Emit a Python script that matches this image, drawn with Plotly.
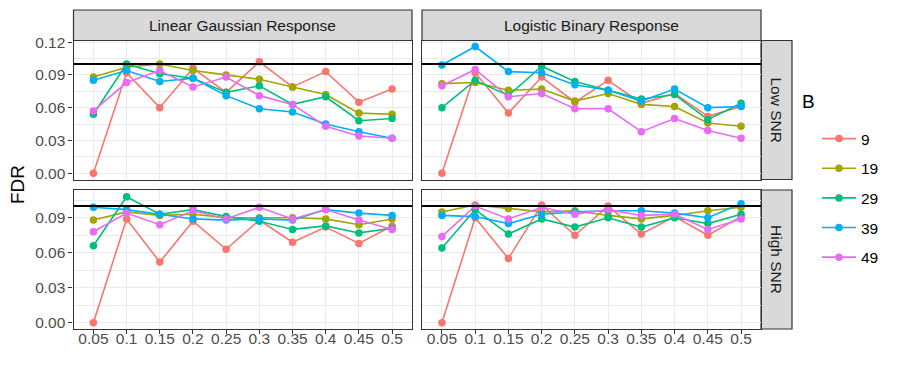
import plotly.graph_objects as go
from plotly.subplots import make_subplots

# FDR levels (x axis, discrete in the original)
fdr_levels = [0.05, 0.10, 0.15, 0.20, 0.25, 0.30, 0.35, 0.40, 0.45, 0.50]
fdr_labels = ["0.05", "0.1", "0.15", "0.2", "0.25", "0.3", "0.35", "0.4", "0.45", "0.5"]

b_values = ["9", "19", "29", "39", "49"]
b_colors = ["#F8766D", "#A3A500", "#00BF7D", "#00B0F6", "#E76BF3"]

# Low SNR, linear gaussian response
low_lin_9 = [0.000, 0.092, 0.060, 0.096, 0.074, 0.102, 0.079, 0.093, 0.065, 0.077]
low_lin_19 = [0.088, 0.097, 0.100, 0.094, 0.090, 0.086, 0.079, 0.072, 0.055, 0.054]
low_lin_29 = [0.054, 0.100, 0.091, 0.087, 0.074, 0.080, 0.063, 0.070, 0.048, 0.050]
low_lin_39 = [0.085, 0.094, 0.084, 0.087, 0.071, 0.059, 0.056, 0.045, 0.038, 0.032]
low_lin_49 = [0.057, 0.083, 0.094, 0.079, 0.088, 0.071, 0.063, 0.043, 0.034, 0.032]

# Low SNR, logistic binary response
low_log_9 = [0.000, 0.092, 0.055, 0.088, 0.065, 0.085, 0.064, 0.073, 0.052, 0.061]
low_log_19 = [0.082, 0.083, 0.076, 0.077, 0.066, 0.073, 0.063, 0.061, 0.046, 0.043]
low_log_29 = [0.060, 0.085, 0.071, 0.098, 0.084, 0.076, 0.068, 0.072, 0.049, 0.064]
low_log_39 = [0.099, 0.116, 0.093, 0.092, 0.081, 0.076, 0.066, 0.077, 0.060, 0.061]
low_log_49 = [0.080, 0.095, 0.070, 0.073, 0.059, 0.059, 0.038, 0.050, 0.039, 0.032]

# High SNR, linear gaussian response
high_lin_9 = [0.000, 0.089, 0.052, 0.087, 0.063, 0.088, 0.069, 0.082, 0.068, 0.083]
high_lin_19 = [0.088, 0.095, 0.092, 0.093, 0.090, 0.090, 0.090, 0.089, 0.084, 0.089]
high_lin_29 = [0.066, 0.108, 0.093, 0.097, 0.091, 0.087, 0.080, 0.083, 0.077, 0.081]
high_lin_39 = [0.099, 0.097, 0.093, 0.089, 0.088, 0.089, 0.088, 0.097, 0.094, 0.092]
high_lin_49 = [0.078, 0.094, 0.084, 0.096, 0.089, 0.099, 0.089, 0.097, 0.088, 0.080]

# High SNR, logistic binary response
high_log_9 = [0.000, 0.090, 0.055, 0.101, 0.075, 0.100, 0.076, 0.091, 0.075, 0.091]
high_log_19 = [0.095, 0.101, 0.098, 0.095, 0.096, 0.092, 0.089, 0.092, 0.096, 0.099]
high_log_29 = [0.064, 0.097, 0.076, 0.089, 0.082, 0.090, 0.082, 0.090, 0.085, 0.093]
high_log_39 = [0.092, 0.091, 0.085, 0.093, 0.095, 0.096, 0.096, 0.094, 0.090, 0.102]
high_log_49 = [0.074, 0.100, 0.089, 0.099, 0.093, 0.097, 0.092, 0.093, 0.080, 0.089]

target_fdr = 0.1

panels = {
    (1, 1): [low_lin_9, low_lin_19, low_lin_29, low_lin_39, low_lin_49],
    (1, 2): [low_log_9, low_log_19, low_log_29, low_log_39, low_log_49],
    (2, 1): [high_lin_9, high_lin_19, high_lin_29, high_lin_39, high_lin_49],
    (2, 2): [high_log_9, high_log_19, high_log_29, high_log_39, high_log_49],
}

# figure a bit wider than the window so plotly doesn't push the legend left
W, H = 930, 386
OFF = 8  # the page body has an 8px margin, shift everything back by it
FONT = "Liberation Sans, Arial, sans-serif"
TXT = 15.5


def px(x):
    return (x - OFF) / W


def py(y):
    return 1 - (y - OFF) / H


fig = make_subplots(rows=2, cols=2)

# lines first, then points (ggplot layer order)
for (r, c), series in panels.items():
    for vals, col in zip(series, b_colors):
        fig.add_trace(go.Scatter(x=fdr_levels, y=vals, mode="lines",
                                 line=dict(color=col, width=1.6),
                                 showlegend=False, hoverinfo="skip"), row=r, col=c)
for (r, c), series in panels.items():
    for name, vals, col in zip(b_values, series, b_colors):
        fig.add_trace(go.Scatter(x=fdr_levels, y=vals, mode="markers", name=name,
                                 marker=dict(color=col, size=7.5),
                                 showlegend=False), row=r, col=c)

# legend entries
for name, col in zip(b_values, b_colors):
    fig.add_trace(go.Scatter(x=[None], y=[None], mode="lines+markers", name=name,
                             line=dict(color=col, width=1.6),
                             marker=dict(color=col, size=7.5),
                             legendgroup="g" + name, showlegend=True), row=1, col=1)

# panel geometry in pixels
col_x = [(73.5, 412), (422, 761)]
row_y = [(40.5, 179.5), (190, 329)]
y_ranges = [[-0.0058, 0.1215], [-0.0054, 0.1138]]
y_ticks = [[0, 0.03, 0.06, 0.09, 0.12], [0, 0.03, 0.06, 0.09]]

ax_idx = {(1, 1): "", (1, 2): "2", (2, 1): "3", (2, 2): "4"}
for (r, c), idx in ax_idx.items():
    x0, x1 = col_x[c - 1]
    y0, y1 = row_y[r - 1]
    fig.layout["xaxis" + idx].update(
        domain=[px(x0), px(x1)], range=[0.02, 0.53],
        tickvals=fdr_levels, ticktext=fdr_labels,
        showticklabels=(r == 2), ticks="outside" if r == 2 else "",
        ticklen=4, tickcolor="#333333", tickwidth=1.1,
        ticklabelstandoff=-9,
        showgrid=True, gridcolor="#EBEBEB", gridwidth=1.1, zeroline=False,
        showline=True, mirror=True, linecolor="#333333", linewidth=1.2,
        tickfont=dict(family=FONT, size=TXT, color="#4D4D4D"),
        automargin=False)
    fig.layout["yaxis" + idx].update(
        domain=[py(y1), py(y0)], range=y_ranges[r - 1],
        tickvals=y_ticks[r - 1], ticktext=["%.2f" % v for v in y_ticks[r - 1]],
        showticklabels=(c == 1), ticks="outside" if c == 1 else "",
        ticklen=4, tickcolor="#333333", tickwidth=1.1,
        showgrid=True, gridcolor="#EBEBEB", gridwidth=1.1, zeroline=False,
        minor=dict(dtick=0.015, tick0=0, showgrid=True, gridcolor="#EBEBEB", gridwidth=0.6),
        showline=True, mirror=True, linecolor="#333333", linewidth=1.2,
        tickfont=dict(family=FONT, size=TXT, color="#4D4D4D"),
        automargin=False)
    # target FDR reference line
    fig.add_shape(type="line", xref="x" + idx + " domain", yref="y" + idx,
                  x0=0, x1=1, y0=target_fdr, y1=target_fdr,
                  line=dict(color="black", width=2), layer="above")

strip_style = dict(type="rect", xref="paper", yref="paper",
                   fillcolor="#D9D9D9", line=dict(color="#333333", width=1.2), layer="below")
col_titles = ["Linear Gaussian Response", "Logistic Binary Response"]
for (x0, x1), title in zip(col_x, col_titles):
    fig.add_shape(x0=px(x0), x1=px(x1), y0=py(40.5), y1=py(10), **strip_style)
    fig.add_annotation(x=px((x0 + x1) / 2), y=py(25.5), xref="paper", yref="paper",
                       xanchor="center", yanchor="middle",
                       text=title, showarrow=False,
                       font=dict(family=FONT, size=TXT, color="#1A1A1A"))
row_titles = ["Low SNR", "High SNR"]
for (y0, y1), title in zip(row_y, row_titles):
    fig.add_shape(x0=px(761), x1=px(792), y0=py(y1), y1=py(y0), **strip_style)
    fig.add_annotation(x=px(776.5), y=py((y0 + y1) / 2), xref="paper", yref="paper",
                       xanchor="center", yanchor="middle",
                       text=title, showarrow=False, textangle=90,
                       font=dict(family=FONT, size=TXT, color="#1A1A1A"))

fig.add_annotation(x=px(17), y=py(185), xref="paper", yref="paper",
                   xanchor="center", yanchor="middle",
                   text="FDR", showarrow=False, textangle=-90,
                   font=dict(family=FONT, size=19, color="black"))
fig.add_annotation(x=px(800), y=py(102), xref="paper", yref="paper",
                   xanchor="left", yanchor="middle",
                   text="B", showarrow=False,
                   font=dict(family=FONT, size=19, color="black"))

fig.update_layout(
    width=W, height=H,
    margin=dict(l=0, r=0, t=0, b=0),
    paper_bgcolor="white", plot_bgcolor="white",
    font=dict(family=FONT),
    legend=dict(x=px(817), y=py(122), xanchor="left", yanchor="top",
                font=dict(family=FONT, size=TXT, color="black"),
                traceorder="grouped", tracegroupgap=6.5, itemwidth=34,
                bgcolor="rgba(0,0,0,0)"),
)

fig.write_html("out.html")
